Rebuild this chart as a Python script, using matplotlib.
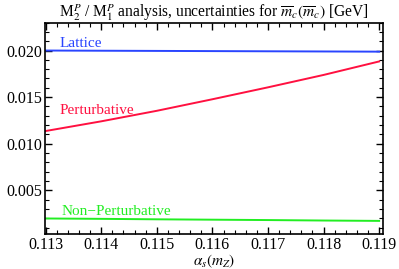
import matplotlib
matplotlib.use("Agg")
import matplotlib.pyplot as plt
from matplotlib.ticker import MultipleLocator

plt.rcParams["font.family"] = ["Liberation Serif", "DejaVu Serif"]
plt.rcParams["mathtext.fontset"] = "stix"

# data
alpha_s = [0.113, 0.114, 0.115, 0.116, 0.117, 0.118, 0.119]
lattice = [0.0200, 0.01998, 0.01996, 0.01994, 0.01992, 0.0199, 0.01988]
perturbative = [0.01136, 0.0124, 0.01353, 0.01477, 0.01605, 0.01738, 0.01883]
non_perturbative = [0.00197, 0.00193, 0.00188, 0.00184, 0.0018, 0.00175, 0.00171]

fig = plt.figure(figsize=(3.99, 2.69), dpi=100)
ax = fig.add_axes([0.113, 0.13, 0.847, 0.786])

ax.plot(alpha_s, lattice, color="#2a45ff", lw=1.4)
ax.plot(alpha_s, perturbative, color="#ff1040", lw=1.4)
ax.plot(alpha_s, non_perturbative, color="#22ee22", lw=1.4)

ax.text(0.11325, 0.0201, "Lattice", color="#2a45ff", fontsize=11, va="bottom")
ax.text(0.11325, 0.0129, "Perturbative", color="#ff1040", fontsize=11, va="bottom")
ax.text(0.11328, 0.00205, "Non\u2212Perturbative", color="#22ee22", fontsize=11, va="bottom")

ax.set_xlim(0.11299, 0.11907)
ax.set_ylim(0.0003, 0.0230)
ax.xaxis.set_major_locator(MultipleLocator(0.001))
ax.xaxis.set_minor_locator(MultipleLocator(0.0002))
ax.yaxis.set_major_locator(MultipleLocator(0.005))
ax.yaxis.set_minor_locator(MultipleLocator(0.001))
ax.xaxis.set_major_formatter(plt.FormatStrFormatter("%.3f"))
ax.yaxis.set_major_formatter(plt.FormatStrFormatter("%.3f"))
ax.tick_params(which="both", direction="in", top=True, right=True, labelsize=11.5, pad=2)
ax.tick_params(which="major", length=5, width=1)
ax.tick_params(which="minor", length=3, width=0.8)
for s in ax.spines.values():
    s.set_linewidth(1.2)

ax.set_xlabel(r"$\alpha_s(m_Z)$", fontsize=11, labelpad=0)
ax.set_title(r"M$_2^P$ / M$_1^P$ analysis, uncertainties for $\overline{m}_c(\overline{m}_c)$ [GeV]",
             fontsize=11.2, pad=3)

fig.savefig("out.png", dpi=100)
